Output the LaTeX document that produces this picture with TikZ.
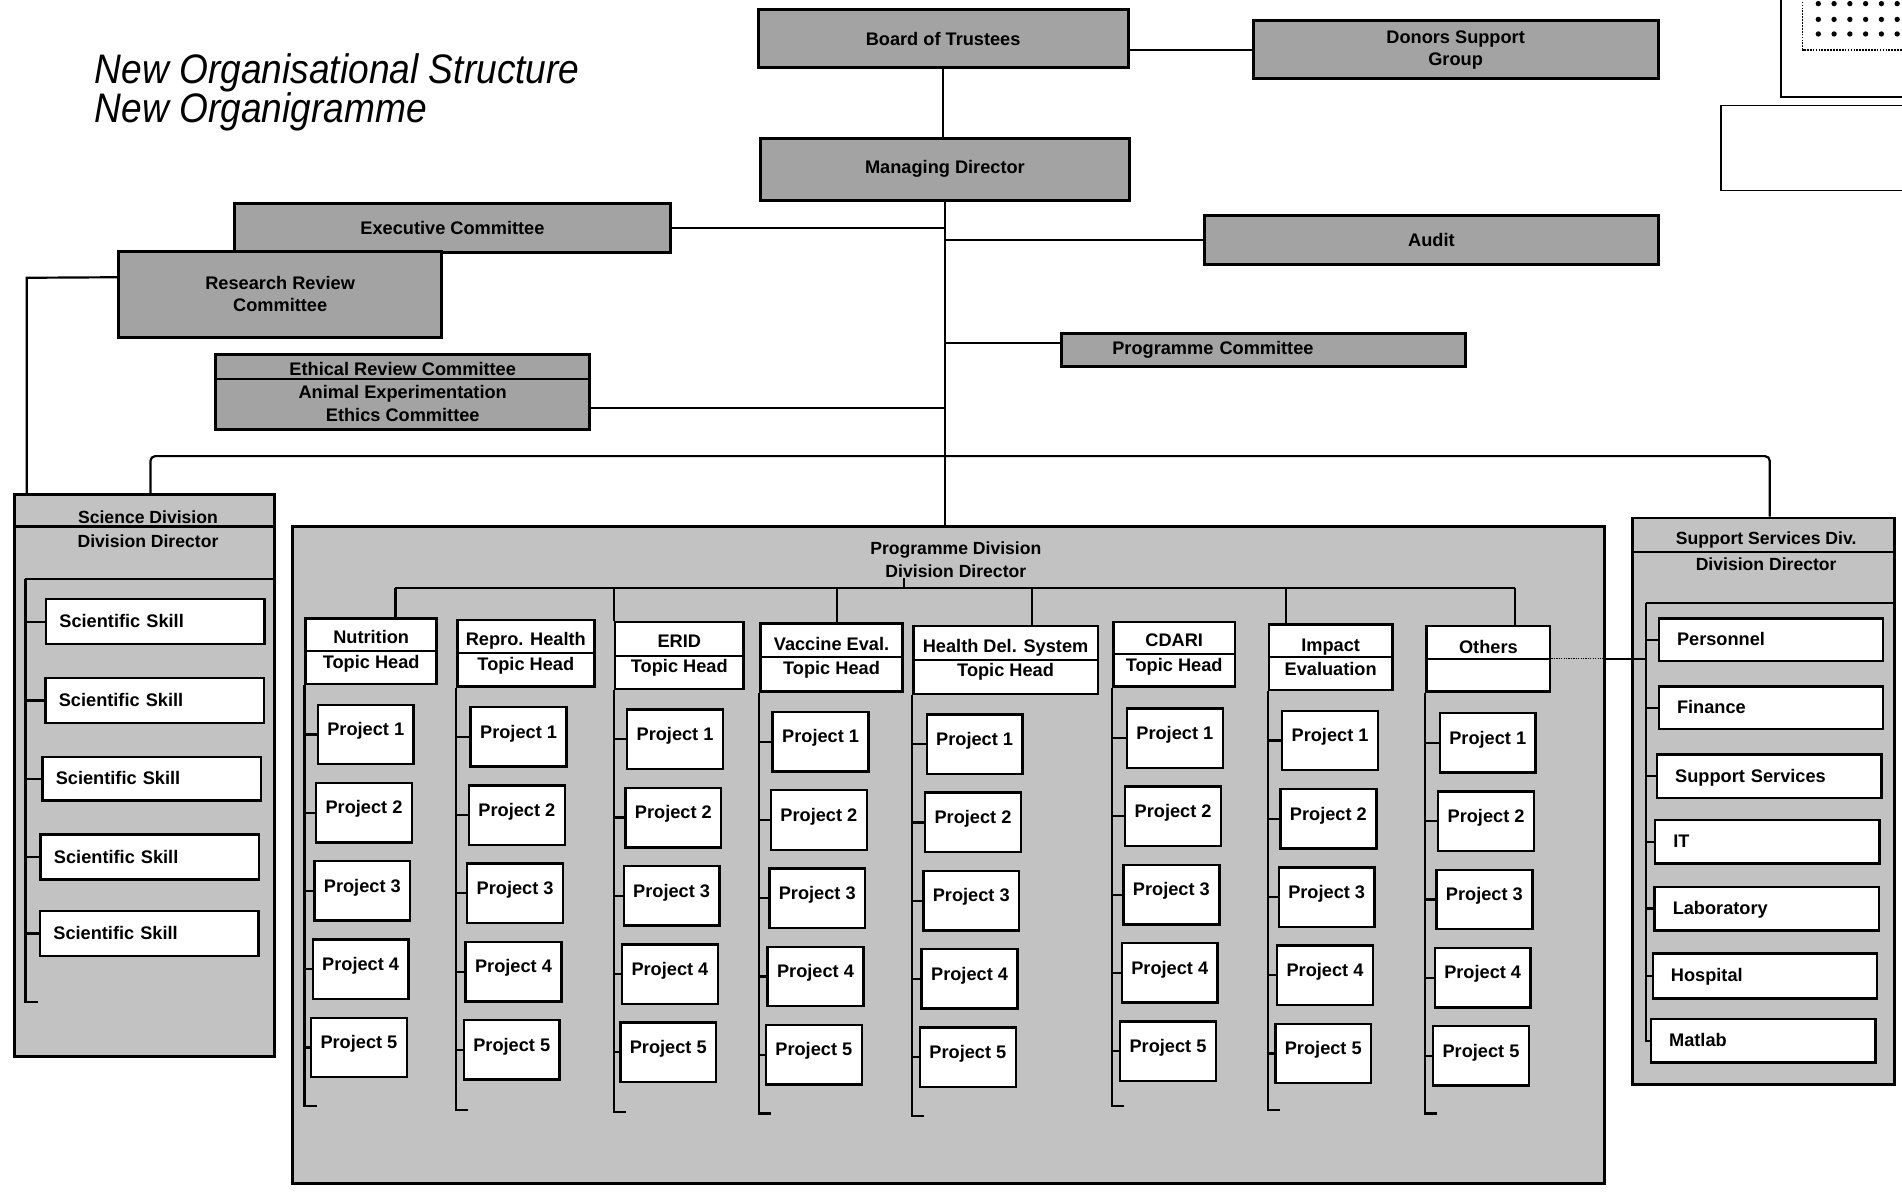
\documentclass[tikz,border=0pt]{standalone}
\usepackage{fontspec}
\setmainfont{Liberation Sans}
\newfontfamily\titlefam{Liberation Sans}[FakeStretch=0.9]
\usetikzlibrary{calc}
\newcommand\boxfont{\fontsize{15}{18}\selectfont\bfseries}
\newcommand\topicfont{\fontsize{15}{20}\selectfont\bfseries}
\newcommand\divfont{\fontsize{14.5}{18}\selectfont\bfseries}
\newcommand\ethfont{\fontsize{15}{19}\selectfont\bfseries}
\newcommand\titlefont{\titlefam\fontsize{34}{32}\selectfont\itshape}
\colorlet{boardgray}{black!36}
\colorlet{divgray}{black!24}
\begin{document}
\begin{tikzpicture}[x=1pt,y=-1pt,
  conn/.style={line width=1.8pt},
  gbox/.style={draw, line width=2.4pt, fill=boardgray, font=\boxfont, align=center, inner sep=0pt},
  dbox/.style={draw, line width=2.4pt, fill=divgray, inner sep=0pt},
  wbox/.style={draw, line width=2pt, fill=white, inner sep=0pt},
  pbox/.style={wbox, minimum width=79pt, minimum height=49pt, font=\boxfont, text height=11pt, text depth=9pt},
  skbox/.style={wbox, font=\boxfont, align=left, text height=11pt, text depth=1pt, inner xsep=11pt, text width=158pt},
  svbox/.style={wbox, font=\boxfont, align=left, text height=11pt, text depth=1pt, inner xsep=15pt, text width=155pt},
  tbox/.style={wbox, font=\topicfont, align=center},
  head/.style={font=\divfont, inner sep=0pt},
]
\useasboundingbox (0,0) rectangle (1568,987);
\fill[white] (0,0) rectangle (1568,987);

% title
\node[anchor=base west, font=\titlefont, inner sep=0pt] (title1) at (78,69) {New Organisational Structure};
\node[anchor=base west, font=\titlefont, inner sep=0pt] (title2) at (78,101) {New Organigramme};

% framed panels in the upper right corner
\draw[line width=1.4pt] (1575,80) -- (1468,80) -- (1468,-5);
\draw[line width=1.4pt, densely dotted] (1575,41) -- (1486,41) -- (1486,-5);
\foreach \dx in {1499,1512,1525,1538,1551,1564}
  \foreach \dy in {3,16,28}
    \fill (\dx,\dy) circle (2.2);
\draw[line width=1.4pt] (1575,87) -- (1419,87) -- (1419,157) -- (1575,157);

% governing bodies and committees
\node[gbox, minimum width=305pt, minimum height=48pt] (board) at (777.5,32) {Board of Trustees};
\node[gbox, minimum width=334pt, minimum height=48pt] (donors) at (1200,41) {Donors Support\\Group};
\node[gbox, minimum width=304pt, minimum height=51pt] (md) at (779,139.5) {Managing Director};
\node[gbox, minimum width=360pt, minimum height=40pt] (exec) at (373,188) {Executive Committee};
\node[gbox, minimum width=374pt, minimum height=40pt] (audit) at (1180,198) {Audit};
\node[gbox, minimum width=266pt, minimum height=71pt] (rrc) at (231,242.5) {Research Review\\Committee};
\node[gbox, minimum width=333pt, minimum height=27pt, align=left, text width=249pt, inner xsep=42pt] (pc) at (1041.5,288.5) {Programme Committee};
\node[gbox, font=\ethfont, minimum width=308pt, minimum height=62pt] (ethics) at (332,323) {Ethical Review Committee\\Animal Experimentation\\Ethics Committee};
\draw[line width=1.6pt] ($(ethics.north west)+(0,21.5)$) -- ($(ethics.north east)+(0,21.5)$);

% divisions
\node[dbox, minimum width=214pt, minimum height=463pt] (sd) at (119,639.5) {};
\node[dbox, minimum width=1082pt, minimum height=542pt] (pd) at (782,705) {};
\node[dbox, minimum width=216pt, minimum height=467pt] (ss) at (1454,660.5) {};

\draw[conn] (sd.west |- 0,434) -- (sd.east |- 0,434);
\node[head] (sdh1) at (122,426) {Science Division};
\node[head] (sdh2) at (122,446) {Division Director};
\node[head] (pdh1) at (788,453) {Programme Division};
\node[head] (pdh2) at (788,471) {Division Director};
\draw[conn] (ss.west |- 0,455) -- (ss.east |- 0,455);
\node[head] (ssh1) at (1456,445) {Support Services Div.};
\node[head] (ssh2) at (1456,465) {Division Director};

% science division units
\node[skbox, minimum height=37pt] (sk1) at (128,512.5) {Scientific Skill};
\node[skbox, minimum height=37pt] (sk2) at (127.5,577.5) {Scientific Skill};
\node[skbox, minimum height=36pt] (sk3) at (125,642) {Scientific Skill};
\node[skbox, minimum height=37pt] (sk4) at (123.5,706.5) {Scientific Skill};
\node[skbox, minimum height=37pt] (sk5) at (123,769.5) {Scientific Skill};

% support services units
\node[svbox, minimum height=35pt] (sv1) at (1460,527.5) {Personnel};
\node[svbox, minimum height=35pt] (sv2) at (1460,583.5) {Finance};
\node[svbox, minimum height=36pt] (sv3) at (1458.5,640) {Support Services};
\node[svbox, minimum height=36pt] (sv4) at (1457,694) {IT};
\node[svbox, minimum height=36pt] (sv5) at (1456.5,749) {Laboratory};
\node[svbox, minimum height=37pt] (sv6) at (1455,804.5) {Hospital};
\node[svbox, minimum height=36pt] (sv7) at (1453.5,858) {Matlab};

% programme topics
\foreach \col/\cx/\cy/\w/\h/\ta/\tb in {
  1/306/537/108/54/Nutrition/Topic Head,
  2/433.5/538.5/113/55/Repro. Health/Topic Head,
  3/560/540.5/106/55/ERID/Topic Head,
  4/685.5/542/117/56/Vaccine Eval./Topic Head,
  5/829/544/152/56/Health Del. System/Topic Head,
  6/968/539.5/100/53/CDARI/Topic Head,
  7/1097/542/102/54/Impact/Evaluation,
  8/1227/543/102/54/Others/\phantom{X}}
{
  \node[tbox, minimum width=\w pt, minimum height=\h pt] (t\col) at (\cx,\cy) {\ta\\\tb};
  \draw[line width=1.6pt] (t\col.west) -- (t\col.east);
}

% projects under each topic
\foreach \col/\xa/\ya in {1/262/581, 2/388/583, 3/517/585, 4/637/587, 5/764/589, 6/929/584, 7/1057/586, 8/1187/588}
  \foreach \r in {1,...,5}
    \node[pbox] (p\col-\r) at ({\xa+39.5-1.4*(\r-1)},{\ya+24.5+64.5*(\r-1)}) {Project \r};

% connectors: top of the hierarchy
\draw[conn] (board.south) -- (board.south |- md.north);
\draw[conn] (board.east |- donors.west) -- (donors.west);
\draw[conn] (md.south) -- (md.south |- pd.north);
\draw[conn] (exec.east) -- (exec.east -| md.south);
\draw[conn] (audit.west -| md.south) -- (audit.west);
\coordinate (pcin) at ($(pc.north west)!0.3!(pc.south west)$);
\draw[conn] (pcin -| md.south) -- (pcin);
\coordinate (ethin) at ($(ethics.north east)!0.71!(ethics.south east)$);
\draw[conn] (ethin) -- (ethin -| md.south);
\coordinate (rrin) at ($(rrc.north west)!0.31!(rrc.south west)$);
\coordinate (sdl) at (22,229);
\draw[conn] (rrin) -- (sdl) -- (sdl |- sd.north);
\coordinate (brL) at (124,376);
\coordinate (brR) at (1459,376);
\draw[conn, rounded corners=4pt] (brL |- sd.north) -- (brL) -- (brR) -- (brR |- ss.north);

% connectors: science division
\coordinate (sdsp) at (21,477);
\coordinate (sdend) at (21,826);
\draw[conn] (sdsp) -- (sdsp -| sd.east);
\draw[conn] (sdsp) -- (sdend) -- ++(10,0);
\foreach \i in {1,...,5}
  \draw[conn] (sdsp |- sk\i.west) -- (sk\i.west);

% connectors: support services division
\coordinate (sssp) at (1357,497);
\draw[conn] (sssp) -- (sssp -| ss.east);
\draw[conn] (sssp) -- (sssp |- sv7.west) -- (sv7.west);
\foreach \i in {1,...,6}
  \draw[conn] (sssp |- sv\i.west) -- (sv\i.west);

% connectors: programme division
\coordinate (pdl) at (326,485);
\coordinate (pdr) at (1249,485);
\draw[conn] (pdl) -- (pdr);
\draw[conn] (pdh2.south -| 745,0) -- (745,485);
\foreach \col/\dx in {1/326, 4/690, 5/851, 7/1060, 8/1249}
  \draw[conn] (\dx,485) -- (\dx,485 |- t\col.north);
\draw[conn] (t3.north west |- pdl) -- (t3.north west);
\foreach \col/\yb in {1/912, 2/915, 3/917, 4/918, 5/920, 6/912, 7/915, 8/918} {
  \draw[conn] (t\col.south west) -- (t\col.south west |- 0,\yb) -- ++(10,0);
  \foreach \r in {1,...,5}
    \draw[conn] (t\col.south west |- p\col-\r.west) -- (p\col-\r.west);
}

% link from the last topic across to support services
\draw[line width=1pt, densely dotted] (t8.east) -- (t8.east -| pd.east);
\draw[conn] (t8.east -| pd.east) -- (t8.east -| sssp);
\end{tikzpicture}
\end{document}
